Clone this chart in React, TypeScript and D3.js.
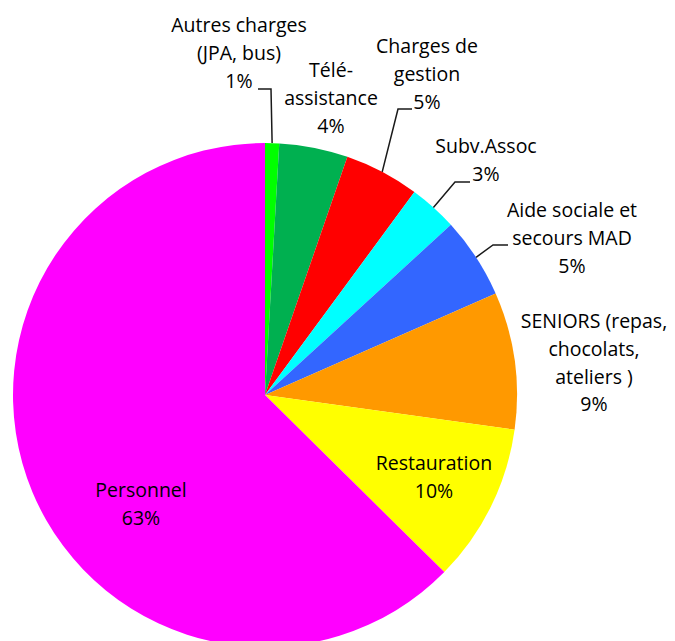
import React from "react";
import * as d3 from "d3";

const categories = [
  "Autres charges\n(JPA, bus)",
  "Télé-\nassistance",
  "Charges de\ngestion",
  "Subv.Assoc",
  "Aide sociale et\nsecours MAD",
  "SENIORS (repas,\nchocolats,\nateliers )",
  "Restauration",
  "Personnel",
];
const values = [0.9, 4.4, 4.8, 3.1, 5.2, 8.8, 10.2, 62.6];
const colors = ["#00FF00", "#00B050", "#FF0000", "#00FFFF", "#3366FF", "#FF9900", "#FFFF00", "#FF00FF"];

// layout of labels: text centre x, first baseline y, leader elbow (or null)
const labelLayout = [
  { x: 239, y: 32, elbow: [271, 89], end: [258, 89] },
  { x: 331, y: 77, elbow: null, end: null },
  { x: 427, y: 53, elbow: [398, 109], end: [412, 109] },
  { x: 486, y: 153, elbow: [455, 182], end: [470, 182] },
  { x: 572, y: 217, elbow: [493, 245], end: [508, 245] },
  { x: 594, y: 328, elbow: null, end: null },
  { x: 434, y: 470, elbow: null, end: null },
  { x: 141, y: 497, elbow: null, end: null },
];

const W = 675;
const H = 641;
const CX = 265;
const CY = 395;
const R = 252;
const LH = 27.8;

export default function App() {
  const pie = d3.pie<number>().sort(null).startAngle(0).endAngle(2 * Math.PI);
  const arcs = pie(values);
  const arc = d3.arc<d3.PieArcDatum<number>>().innerRadius(0).outerRadius(R);

  return (
    <svg
      width={W}
      height={H}
      style={{ position: "absolute", left: 0, top: 0, background: "#fff" }}
      fontFamily="'Open Sans', sans-serif"
    >
      <g transform={`translate(${CX},${CY})`}>
        {arcs.map((a, i) => (
          <path key={i} d={arc(a) || ""} fill={colors[i]} />
        ))}
      </g>
      {arcs.map((a, i) => {
        const L = labelLayout[i];
        if (!L.elbow) return null;
        const mid = (a.startAngle + a.endAngle) / 2;
        const ex = CX + R * Math.sin(mid);
        const ey = CY - R * Math.cos(mid);
        const pts = [[ex, ey], L.elbow, L.end] as [number, number][];
        return (
          <path
            key={"l" + i}
            d={d3.line()(pts) || ""}
            fill="none"
            stroke="#1a1a1a"
            strokeWidth={1.5}
          />
        );
      })}
      {categories.map((c, i) => {
        const L = labelLayout[i];
        const lines = [...c.split("\n"), `${Math.round(values[i])}%`];
        return (
          <text key={"t" + i} x={L.x} y={L.y} textAnchor="middle" fontSize={19.5} fill="#000">
            {lines.map((ln, j) => (
              <tspan key={j} x={L.x} y={L.y + j * LH}>
                {ln}
              </tspan>
            ))}
          </text>
        );
      })}
    </svg>
  );
}
